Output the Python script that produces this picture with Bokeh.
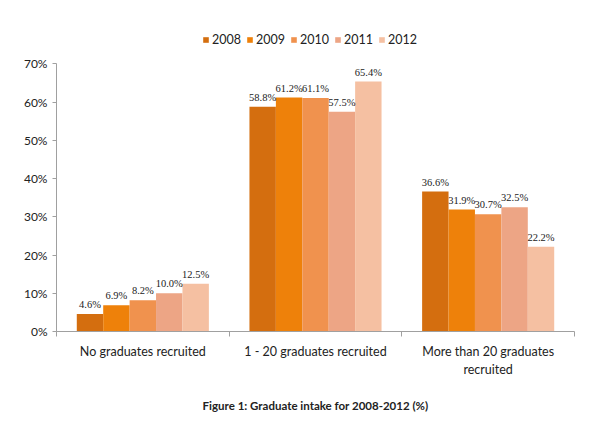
from bokeh.plotting import figure
from bokeh.models import (ColumnDataSource, FixedTicker, NumeralTickFormatter, Legend, LegendItem,
                          Range1d, LabelSet)
from bokeh.embed import file_html
from bokeh.resources import INLINE

categories = ["No graduates recruited", "1 - 20 graduates recruited", "More than 20 graduates\nrecruited"]
years = ["2008", "2009", "2010", "2011", "2012"]
values = {
    "2008": [4.6, 58.8, 36.6],
    "2009": [6.9, 61.2, 31.9],
    "2010": [8.2, 61.1, 30.7],
    "2011": [10.0, 57.5, 32.5],
    "2012": [12.5, 65.4, 22.2],
}
colors = ["#D46E0F", "#EE810A", "#F0924E", "#EDA585", "#F5C0A2"]
y_ticks = [0, 0.1, 0.2, 0.3, 0.4, 0.5, 0.6, 0.7]
caption = "Figure 1: Graduate intake for 2008-2012 (%)"

FONT = "Lato"
W, H = 596, 420
p = figure(width=W, height=H, output_backend="svg", toolbar_location=None,
           x_range=Range1d(0, 3), y_range=Range1d(0, 0.819),
           min_border_left=56, min_border_right=22, min_border_top=18, min_border_bottom=89)
p.outline_line_color = None
p.xgrid.visible = False
p.ygrid.visible = False
p.background_fill_color = "white"

bar_w = 0.153
renderers = []
for j, yr in enumerate(years):
    xs = [i + 0.5 + (j - 2) * bar_w for i in range(len(categories))]
    tops = [v / 100 for v in values[yr]]
    labels = ["%.1f%%" % v for v in values[yr]]
    src = ColumnDataSource(dict(x=xs, top=tops, label=labels))
    r = p.vbar(x="x", top="top", width=bar_w, source=src, fill_color=colors[j], line_color=None)
    renderers.append(r)
    p.add_layout(LabelSet(x="x", y="top", text="label", source=src, text_align="center",
                          text_baseline="bottom", y_offset=4, text_font=FONT,
                          text_font_size="10.5px", text_color="#222"))

# y axis
ya = p.yaxis[0]
ya.ticker = FixedTicker(ticks=y_ticks)
ya.bounds = (0, 0.7)
ya.formatter = NumeralTickFormatter(format="0%")
ya.axis_line_color = "#A0A0A0"
ya.major_tick_line_color = "#A0A0A0"
ya.major_tick_out = 4
ya.major_tick_in = 0
ya.minor_tick_line_color = None
ya.major_label_text_font = FONT
ya.major_label_text_font_size = "12px"
ya.major_label_text_color = "#222"

# x axis
xa = p.xaxis[0]
xa.ticker = FixedTicker(ticks=[i + 0.5 for i in range(len(categories))],
                        minor_ticks=list(range(len(categories) + 1)))
xa.major_label_overrides = {i + 0.5: c for i, c in enumerate(categories)}
xa.major_tick_line_color = None
xa.minor_tick_line_color = "#A0A0A0"
xa.minor_tick_out = 5
xa.minor_tick_in = 0
xa.axis_line_color = "#A0A0A0"
xa.major_label_text_font = FONT
xa.major_label_text_font_size = "12.5px"
xa.major_label_text_color = "#222"
xa.major_label_standoff = 6
xa.axis_label = caption
xa.axis_label_text_font = FONT
xa.axis_label_text_font_size = "11.5px"
xa.axis_label_text_font_style = "bold"
xa.axis_label_text_color = "#222"
xa.axis_label_standoff = 19

legend = Legend(items=[LegendItem(label=yr, renderers=[r]) for yr, r in zip(years, renderers)],
                orientation="horizontal", location=(146, 284), label_text_font=FONT,
                label_text_font_size="12.5px", glyph_width=7, glyph_height=7, label_standoff=3,
                spacing=5, border_line_color=None, background_fill_alpha=0, padding=2, margin=0,
                label_text_color="#222")
p.add_layout(legend)

open("out.html", "w").write(file_html(p, INLINE))
